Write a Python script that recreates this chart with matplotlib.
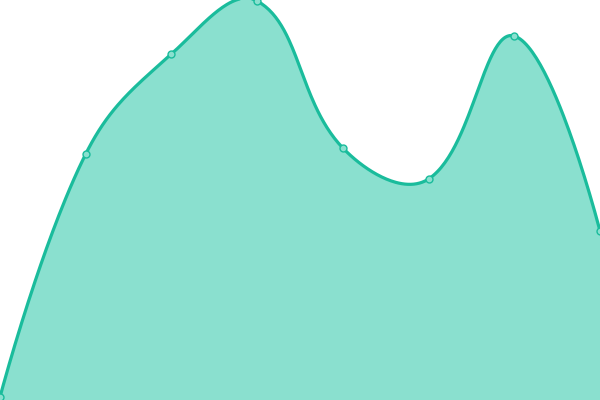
import numpy as np
import matplotlib
matplotlib.use("Agg")
import matplotlib.pyplot as plt

categories = ["A", "B", "C", "D", "E", "F", "G", "H"]
values = [3, 246, 346, 399, 252, 221, 364, 169]

LINE = "#1abc9c"
FILL = "#8ae0cf"
SMOOTH = 0.4

fig = plt.figure(figsize=(6, 4), dpi=100)
ax = fig.add_axes([0, 0, 1, 1])
x = np.arange(len(categories))
ax.set_xlim(0, len(categories) - 1)
ax.set_ylim(0, 400)
ax.axis("off")

# compute smooth bezier in display space (ECharts-like)
pts = ax.transData.transform(np.column_stack([x, values]))
n = len(pts)
cp_out = [None] * n
cp_in = [None] * n
for i in range(n):
    p = pts[i]
    if i == 0 or i == n - 1:
        cp_out[i] = p.copy()
        cp_in[i] = p.copy()
        continue
    prev, nxt = pts[i - 1], pts[i + 1]
    v = nxt - prev
    l0 = np.hypot(*(p - prev))
    l1 = np.hypot(*(nxt - p))
    r = l1 / (l0 + l1)
    cp_in[i] = p - v * SMOOTH * (1 - r)
    cp_out[i] = p + v * SMOOTH * r

t = np.linspace(0, 1, 60)[:, None]
curve = []
for i in range(n - 1):
    p0, c0, c1, p1 = pts[i], cp_out[i], cp_in[i + 1], pts[i + 1]
    seg = ((1 - t) ** 3) * p0 + 3 * ((1 - t) ** 2) * t * c0 + 3 * (1 - t) * t ** 2 * c1 + t ** 3 * p1
    curve.append(seg if i == 0 else seg[1:])
curve = np.vstack(curve)
data_curve = ax.transData.inverted().transform(curve)

ax.fill_between(data_curve[:, 0], 0, data_curve[:, 1], color=FILL, lw=0)
ax.plot(data_curve[:, 0], data_curve[:, 1], color=LINE, lw=2.3, solid_capstyle="round")
ax.plot(x, values, "o", ms=5, mfc=FILL, mec=LINE, mew=1)

fig.savefig("out.png", dpi=100)
